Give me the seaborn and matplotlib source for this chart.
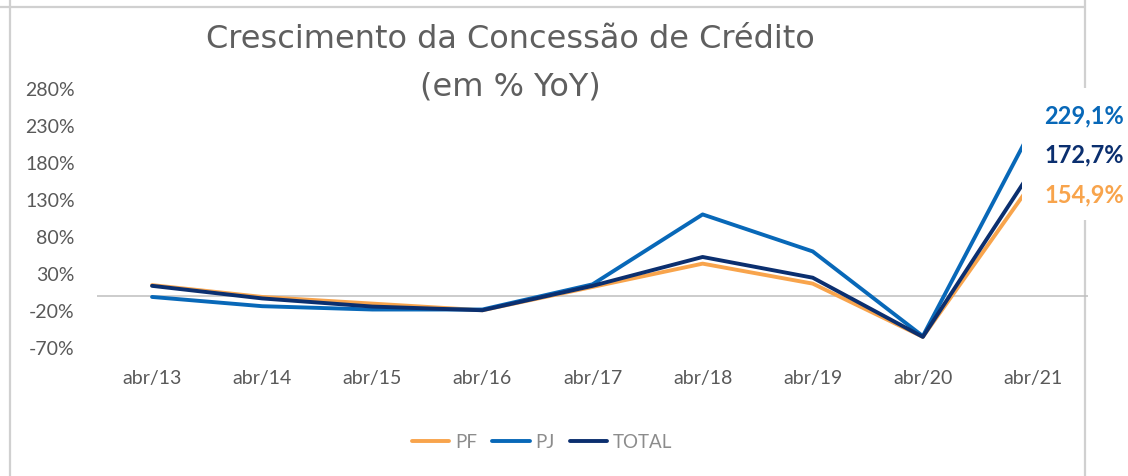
import matplotlib
matplotlib.use("Agg")
import matplotlib.pyplot as plt
import seaborn as sns
import pandas as pd
from matplotlib.patches import Rectangle
from matplotlib.lines import Line2D

# dados (% YoY)
meses = ["abr/13", "abr/14", "abr/15", "abr/16", "abr/17", "abr/18", "abr/19", "abr/20", "abr/21"]
pf = [15, -1, -10, -19, 12.5, 44, 17, -55, 154.9]
pj = [-1, -13.5, -18, -18, 16, 110.5, 60.5, -54, 229.1]
total = [14, -3, -14, -19, 14, 53, 25, -55, 172.7]
series = ["PF", "PJ", "TOTAL"]
cores = ["#F8A44C", "#0868B8", "#0B2F6F"]
rotulos_finais = ["154,9%", "229,1%", "172,7%"]
yticks = list(range(-70, 281, 50))

df = pd.DataFrame({
    "pos": list(range(len(meses))) * 3,
    "valor": pf + pj + total,
    "serie": [s for s in series for _ in meses],
})

sns.set_style("white")
plt.rcParams["font.family"] = ["Lato", "DejaVu Sans"]

W, H = 1128, 476
fig = plt.figure(figsize=(W / 100, H / 100), dpi=100)

# linhas de grade da planilha em volta do grafico
cinza_borda = "#D0D0D0"
fig.add_artist(Line2D([0, 1085 / W], [1 - 7 / H, 1 - 7 / H], color=cinza_borda, lw=1.6, zorder=-1))
fig.add_artist(Line2D([10 / W, 10 / W], [0, 1], color=cinza_borda, lw=1.6, zorder=-1))
fig.add_artist(Line2D([1085 / W, 1085 / W], [0, 1], color=cinza_borda, lw=1.6, zorder=-1))

ax = fig.add_axes([97 / W, (H - 348) / H, (1088 - 97) / W, (348 - 89) / H])
ax.patch.set_visible(False)

sns.lineplot(data=df, x="pos", y="valor", hue="serie", palette=dict(zip(series, cores)),
             linewidth=2.8, ax=ax, sort=False)

ax.axhline(0, color="#BFBFBF", lw=1.1, zorder=0)
ax.set_xlim(-0.5, len(meses) - 0.5)
ax.set_ylim(-70, 280)
ax.set_yticks(yticks)
ax.set_yticklabels([f"{v}%" for v in yticks])
ax.set_xticks(range(len(meses)))
ax.set_xticklabels(meses)
ax.tick_params(axis="x", length=0, pad=16, labelsize=14, colors="#595959")
ax.tick_params(axis="y", length=0, pad=16, labelsize=14, colors="#595959")
ax.set_xlabel("")
ax.set_ylabel("")
sns.despine(ax=ax, left=True, bottom=True)

# caixa branca dos rotulos finais
ax.add_patch(Rectangle((1022 / W, 1 - 220 / H), 106 / W, 132 / H, transform=fig.transFigure,
                       facecolor="white", edgecolor="none", clip_on=False, zorder=4))
ultimo = len(meses) - 1
deslocamentos = [-9.5, 8, 9.5]
for serie_vals, cor, txt, dy in zip([pf, pj, total], cores, rotulos_finais, deslocamentos):
    ax.annotate(txt, xy=(ultimo, serie_vals[-1]), xytext=(37, dy), textcoords="offset points",
                ha="center", va="center", fontsize=17, fontweight="bold", color=cor,
                annotation_clip=False, zorder=5)

fonte_titulo = ["DejaVu Sans"]
fig.text(510 / W, 1 - 40 / H, "Crescimento da Concessão de Crédito", ha="center", va="center",
         fontsize=23, color="#5F5F5F", family=fonte_titulo)
fig.text(510 / W, 1 - 87 / H, "(em % YoY)", ha="center", va="center", fontsize=23,
         color="#5F5F5F", family=fonte_titulo)

handles, labels = ax.get_legend_handles_labels()
ax.get_legend().remove()
for h in handles:
    h.set_solid_capstyle("round")
fig.legend(handles, labels, loc="center", bbox_to_anchor=(542 / W, 1 - 442 / H), ncol=3,
           frameon=False, fontsize=13.5, labelcolor="#8C8C8C", handlelength=2.0,
           handletextpad=0.3, columnspacing=0.8)

fig.savefig("out.png", dpi=100)
